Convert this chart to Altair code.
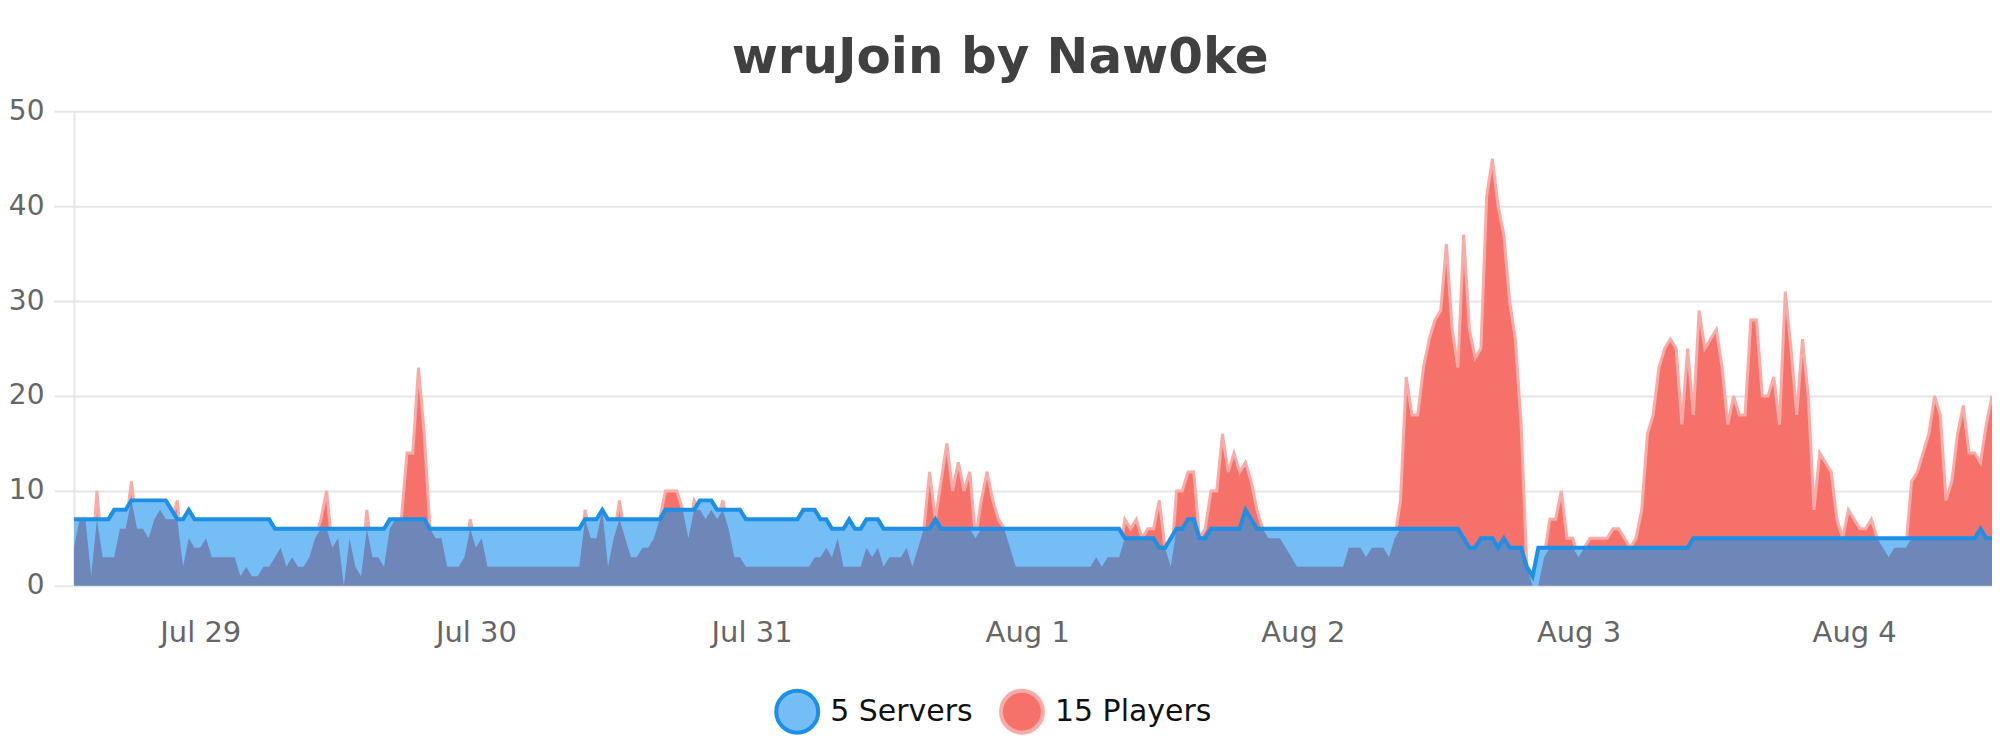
import altair as alt
import pandas as pd

# ---- data (30-minute samples, starting Jul 28 13:00) ----
START = "2023-07-28 13:00"

servers = (
    [7,7,7,7,7,7,7, 8,8,8, 9,9,9,9,9,9,9, 8, 7,7, 8, 7,7,7,7,7,7,7,7,7,7,7,7,7,7, 6,6,6,6,6,6,6,6,6,6,6,6,6]
    + [6,6,6,6,6,6,6, 7,7,7,7,7,7,7, 6,6,6,6,6,6,6,6,6,6, 6,6,6,6,6,6,6,6,6,6, 6,6,6,6,6,6,6, 7,7,7, 8, 7,7,7]
    + [7,7,7,7,7,7,7, 8,8,8,8,8,8, 9,9,9, 8,8,8,8,8, 7,7,7,7,7,7,7,7,7,7, 8,8,8, 7,7, 6,6,6, 7, 6,6, 7,7,7, 6,6,6]
    + [6,6,6,6,6,6, 7, 6,6,6,6,6,6,6,6,6,6, 6,6,6,6,6,6,6,6,6,6, 6,6,6,6,6,6,6,6,6,6, 6,6, 5,5,5,5,5,5, 4,4, 5]
    + [6,6, 7,7, 5,5, 6,6,6,6,6,6, 8, 7, 6,6,6,6,6,6,6,6,6,6, 6,6,6,6,6,6,6,6,6,6, 6,6,6,6,6,6,6,6,6,6, 6,6,6,6]
    + [6,6, 5, 4,4, 5,5,5, 4, 5, 4,4,4, 2, 1, 4,4,4,4,4,4,4,4,4,4, 4,4,4,4,4,4,4,4,4,4, 4,4,4,4,4,4,4, 5,5,5,5,5,5]
    + [5,5,5,5,5,5,5,5,5,5, 5,5,5,5,5,5,5,5,5,5, 5,5,5,5,5,5,5,5,5,5, 5,5,5,5,5,5,5,5,5,5, 5,5,5,5, 6, 5,5,5]
)

players = (
    [4,7,7,1,10,3,3,3,6,6, 11,6,6,5,7,8,7,7,9,2, 5,4,4,5,3,3,3,3,3,1, 2,1,1,2,2,3,4,2,3,2, 2,3,5,7,10,4,5,0]
    + [5,2,1,8,3,3,2,6,7,7, 14,14,23,16,6,5,5,2,2,2, 3,7,4,5,2,2,2,2,2,2, 2,2,2,2,2,2,2,2,2,2, 2,8,5,5,8,2,5,9]
    + [5,3,3,4,4,5,7,10,10,10, 8,5,9,8,7,8,7,9,6,3, 3,2,2,2,2,2,2,2,2,2, 2,2,2,3,3,4,3,5,2,2, 2,2,4,3,4,2,3,3]
    + [3,4,2,4,6,12,7,11,15,10, 13,10,12,5,9,12,9,7,6,4, 2,2,2,2,2,2,2,2,2,2, 2,2,2,2,3,2,3,3,3,7, 6,7,5,6,6,9,4,2]
    + [10,10,12,12,5,6,10,10,16,12, 14,12,13,11,8,6,5,5,5,4, 3,2,2,2,2,2,2,2,2,2, 4,4,4,3,4,4,4,3,5,9, 22,18,18,23,26,28,29,36]
    + [27,23,37,27,24,25,41,45,40,37, 30,26,17,2,0,0,3,7,7,10, 5,5,3,4,5,5,5,5,6,6, 5,4,5,8,16,18,23,25,26,25, 17,25,18,29,25,26,27,23]
    + [17,20,18,18,28,28,20,20,22,17, 31,25,18,26,20,8,14,13,12,7, 5,8,7,6,6,7,5,4,3,4, 4,4,11,12,14,16,20,18,9,11, 16,19,14,14,13,17,20,18]
)

series_names = ["5 Servers", "15 Players"]
y_ticks = [0, 10, 20, 30, 40, 50]

times = pd.date_range(START, periods=len(servers), freq="30min")
df = pd.DataFrame({
    "t": times.strftime("%Y-%m-%dT%H:%M:%S"),
    "servers": servers,
    "players": players,
})
legend_df = pd.DataFrame({
    "series": series_names,
    "t": [df["t"].iloc[0]] * 2,
    "v": [0, 0],
})

FONT = "DejaVu Sans"
GRID = "#e6e6e6"

xscale = alt.Scale(domain=[alt.DateTime(year=2023, month=7, date=28, hours=13),
                           alt.DateTime(year=2023, month=8, date=4, hours=12)])
yscale = alt.Scale(domain=[0, 50], nice=False)

xaxis = alt.Axis(title=None, format="%b %-d", tickCount={"interval": "day", "step": 1},
                 domain=False, ticks=False, grid=False, labelFontSize=29, labelColor="#666666",
                 labelFont=FONT, labelPadding=33, labelFlush=False)
yaxis = alt.Axis(title=None, values=y_ticks, grid=True, gridColor=GRID, gridWidth=2,
                 domain=True, domainColor=GRID, domainWidth=2, tickSize=20, tickColor=GRID,
                 tickWidth=2, labelPadding=10, labelFontSize=28, labelColor="#666666", labelFont=FONT)

X = alt.X("t:T", scale=xscale, axis=xaxis)

base = alt.Chart(df)

red = base.mark_area(color="#f6716a", stroke="#f9aca7", strokeWidth=3, clip=True).encode(
    x=X, y=alt.Y("players:Q", scale=yscale, axis=yaxis))
light = base.mark_area(color="#74bdf5", clip=True).encode(
    x=X, y=alt.Y("servers:Q", scale=yscale))
dark = base.transform_calculate(ov="min(datum.players, datum.servers)").mark_area(
    color="#6f86b9", clip=True).encode(x=X, y=alt.Y("ov:Q", scale=yscale))
line = base.mark_line(color="#1c8fe6", strokeWidth=4, clip=True).encode(
    x=X, y=alt.Y("servers:Q", scale=yscale))

leg = alt.Legend(title=None, orient="none", legendX=701, legendY=578, direction="horizontal",
                 symbolType="circle", symbolSize=1764, symbolStrokeWidth=4, symbolOpacity=1,
                 labelFontSize=30, labelFont=FONT, labelColor="#111111", labelOffset=10,
                 columnPadding=20, padding=0)
legend_layer = alt.Chart(legend_df).mark_point(opacity=0, shape="circle", filled=True).encode(
    x=alt.X("t:T", scale=xscale),
    y=alt.Y("v:Q", scale=yscale),
    fill=alt.Fill("series:N", scale=alt.Scale(domain=series_names, range=["#74bdf5", "#f6716a"]), legend=leg),
    stroke=alt.Stroke("series:N", scale=alt.Scale(domain=series_names, range=["#1c8fe6", "#f9aca7"]), legend=leg),
)

chart = alt.layer(red, light, dark, line, legend_layer).properties(
    width=1920, height=475,
    title=alt.TitleParams("wruJoin by Naw0ke", fontSize=50, fontWeight="bold", color="#404040",
                          font=FONT, anchor="middle", frame="bounds", offset=14),
    padding={"left": 0, "top": 25, "right": 0, "bottom": 0},
).configure_view(stroke=None)

chart.save("out.html", embed_options={"renderer": "svg", "actions": False})
